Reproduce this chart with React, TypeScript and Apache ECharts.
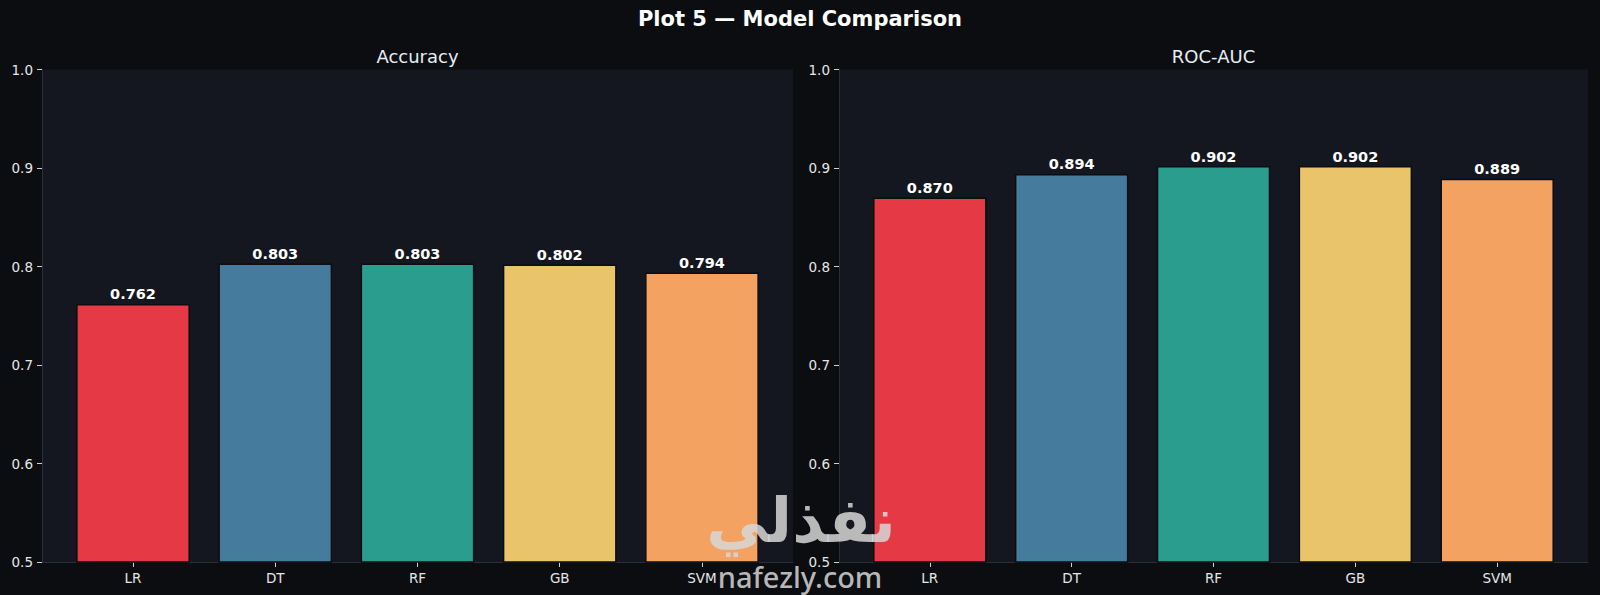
import React, { useEffect, useRef } from "react";
import * as echarts from "echarts";

const categories = ["LR", "DT", "RF", "GB", "SVM"];
const accuracy = [0.762, 0.803, 0.803, 0.802, 0.794];
const rocAuc = [0.87, 0.894, 0.902, 0.902, 0.889];
const barColors = ["#e63946", "#457b9d", "#2a9d8f", "#e9c46a", "#f4a261"];
const panelTitles = ["Accuracy", "ROC-AUC"];
const mainTitle = "Plot 5 — Model Comparison";
const watermarkArabic = "نفذلي";
const watermarkLatin = "nafezly.com";
const yMin = 0.5;
const yMax = 1.0;
const yStep = 0.1;

const FONT = "DejaVu Sans";
const FIG_BG = "#0b0d11";
const AX_BG = "#14171f";
const SPINE = "#2a2f3a";
const TICK = "#c9d1d9";
const LABEL = "#e6e6e6";

export default function App() {
  const ref = useRef<HTMLDivElement>(null);
  useEffect(() => {
    if (!ref.current) return;
    const chart = echarts.init(ref.current, undefined, { renderer: "svg" });
    const top = 69.5;
    const height = 492.5;
    const panels = [
      { left: 42, width: 751, data: accuracy, title: panelTitles[0] },
      { left: 839, width: 749, data: rocAuc, title: panelTitles[1] },
    ];
    const grid: any[] = [];
    const xAxis: any[] = [];
    const yAxis: any[] = [];
    const series: any[] = [];
    const graphic: any[] = [];
    panels.forEach((p, k) => {
      const span = categories.length + 0.28; // xlim -0.64 .. n-0.36
      const band = p.width / span;
      const inset = 0.14 * band;
      const bg = 2 * k;
      const bi = 2 * k + 1;
      grid.push({ left: p.left, top, width: p.width, height, show: true, backgroundColor: AX_BG, borderWidth: 0 });
      grid.push({ left: p.left + inset, top, width: band * categories.length, height });
      xAxis.push({
        type: "value", gridIndex: bg, min: 0, max: 1,
        axisLine: { show: true, lineStyle: { color: SPINE, width: 1 } },
        axisTick: { show: false }, axisLabel: { show: false }, splitLine: { show: false },
      });
      xAxis.push({
        type: "category", gridIndex: bi, data: categories,
        axisLine: { show: false },
        axisTick: { show: true, alignWithLabel: true, length: 5, lineStyle: { color: TICK } },
        axisLabel: { color: LABEL, fontSize: 13.5, fontFamily: FONT, margin: 9 },
      });
      yAxis.push({
        type: "value", gridIndex: bg, min: yMin, max: yMax, interval: yStep,
        axisLine: { show: true, lineStyle: { color: SPINE, width: 1 } },
        axisTick: { show: true, length: 5, lineStyle: { color: TICK } },
        axisLabel: { color: LABEL, fontSize: 13.5, fontFamily: FONT, margin: 9, formatter: (v: number) => v.toFixed(1) },
        splitLine: { show: false },
      });
      yAxis.push({ type: "value", gridIndex: bi, min: yMin, max: yMax, show: false, splitLine: { show: false } });
      series.push({
        type: "bar", xAxisIndex: bi, yAxisIndex: bi,
        barCategoryGap: "20%",
        data: p.data.map((v, i) => ({ value: v, itemStyle: { color: barColors[i] } })),
        itemStyle: { borderColor: "#0b0d11", borderWidth: 1.5 },
        label: {
          show: true, position: "top", distance: 2, color: "#ffffff", fontWeight: "bold",
          fontSize: 14.5, fontFamily: FONT, formatter: (d: any) => Number(d.value).toFixed(3),
        },
      });
      graphic.push({
        type: "text", x: p.left + p.width / 2, y: 56,
        style: { text: p.title, fill: "#e6edf3", fontSize: 18, fontFamily: FONT, textAlign: "center", textVerticalAlign: "middle", align: "center", verticalAlign: "middle" },
      });
    });
    graphic.push({
      type: "text", x: 800, y: 18.5,
      style: { text: mainTitle, fill: "#ffffff", fontSize: 21, fontWeight: "bold", fontFamily: FONT, textAlign: "center", textVerticalAlign: "middle", align: "center", verticalAlign: "middle" },
    });
    graphic.push({
      type: "text", x: 801, y: 520, z: 100,
      style: { text: watermarkArabic, fill: "rgba(215,215,215,0.85)", fontSize: 62, fontWeight: "bold", fontFamily: FONT, textAlign: "center", textVerticalAlign: "middle", align: "center", verticalAlign: "middle" },
    });
    graphic.push({
      type: "text", x: 800, y: 576, z: 100,
      style: { text: watermarkLatin, fill: "rgba(215,215,215,0.85)", fontSize: 29, fontWeight: 500, fontFamily: "Noto Sans", textAlign: "center", textVerticalAlign: "middle", align: "center", verticalAlign: "middle" },
    });
    chart.setOption({
      animation: false,
      backgroundColor: FIG_BG,
      grid, xAxis, yAxis, series, graphic,
    });
    return () => chart.dispose();
  }, []);
  return <div ref={ref} style={{ position: "fixed", left: 0, top: 0, width: 1600, height: 595 }} />;
}
